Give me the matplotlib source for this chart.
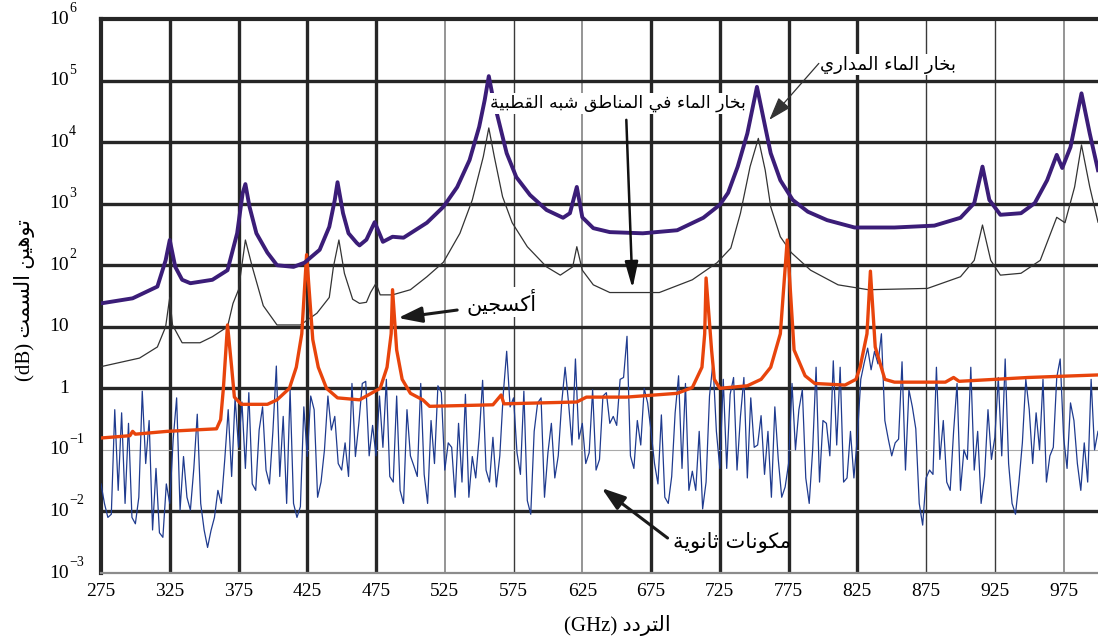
import numpy as np
import matplotlib
matplotlib.use("Agg")
import matplotlib.pyplot as plt


# %% data
# tropical water vapour (purple)
trop_ghz = [275, 298, 316, 322, 325, 329, 334, 340, 356, 367, 374, 378, 380, 383, 388, 396,
            403, 415, 423, 434, 441, 445, 447, 451, 455, 461, 463, 468, 474, 480, 487, 495,
            512, 524, 534, 543, 550, 554, 557, 560, 564, 570, 577, 587, 599, 611, 616, 621,
            625, 633, 645, 669, 694, 713, 725, 731, 738, 745, 752, 758, 762, 769, 778, 789,
            803, 823, 852, 881, 900, 910, 916, 921, 929, 944, 954, 963, 970, 974, 980, 988,
            994, 1000]
trop_db = [24, 29, 45, 120, 257, 94, 58, 51, 58, 83, 330, 1480, 2080, 890, 330, 160,
           100, 94, 110, 178, 420, 1150, 2230, 700, 330, 230, 210, 260, 500, 240, 290, 280,
           490, 890, 1860, 5100, 17700, 48000, 118000, 53000, 23000, 6600, 2700, 1380, 790, 590, 700, 1870,
           600, 400, 345, 330, 370, 590, 960, 1500, 4000, 13800, 79000, 17700, 6600, 2400, 1150, 740,
           540, 410, 410, 440, 590, 1020, 4000, 1150, 660, 700, 1020, 2400, 6200, 3800, 8300, 62000,
           13800, 3500]

# subarctic water vapour (thin black)
sub_ghz = [275, 303, 316, 322, 324, 325, 327, 334, 347, 356, 367, 371, 375, 380, 385, 393,
           403, 420, 432, 441, 444, 448, 452, 458, 463, 468, 471, 475, 478, 487, 500, 512,
           524, 536, 545, 553, 557, 561, 567, 574, 585, 599, 609, 618, 621, 625, 633, 645,
           681, 705, 723, 733, 740, 747, 753, 758, 762, 769, 777, 791, 811, 833, 876, 900,
           910, 916, 922, 929, 944, 958, 970, 976, 983, 988, 994, 1000]
sub_db = [2.25, 3.1, 4.7, 10, 21, 30, 10.7, 5.5, 5.5, 6.9, 10, 24, 40, 257, 94, 22,
          10.7, 10.7, 16.6, 30, 94, 257, 74, 28, 24, 25, 36, 51, 33, 33, 40, 65,
          112, 330, 1150, 5800, 17000, 5800, 1300, 490, 200, 94, 69, 94, 200, 83, 48, 36,
          36, 58, 110, 190, 700, 4000, 11500, 3500, 890, 290, 160, 83, 48, 40, 42, 65,
          120, 450, 120, 69, 74, 120, 600, 490, 1870, 9000, 1870, 500]

# oxygen (orange)
oxy_ghz = [275, 296, 298, 300, 323, 359, 362, 364, 367, 370, 372, 377, 396, 403, 412, 417,
           421, 424.5, 429, 433, 439, 447, 463, 478, 483, 486, 487, 490, 494, 500, 509, 514,
           560, 566, 568, 621, 628, 657, 694, 705, 712, 714, 715, 719, 721, 725, 745, 755,
           762, 769, 774, 779, 787, 794, 816, 824, 827, 832, 834.5, 838, 845, 852, 889, 895,
           899, 925, 949, 1000]
oxy_db = [0.156, 0.17, 0.2, 0.18, 0.2, 0.22, 0.31, 1.0, 10.7, 2.2, 0.72, 0.55, 0.55, 0.65, 1.0, 2.2,
          7.7, 148, 6.2, 2.2, 1.0, 0.7, 0.65, 1.0, 2.2, 7.7, 40, 4.2, 1.4, 0.83, 0.65, 0.51,
          0.54, 0.78, 0.56, 0.6, 0.72, 0.72, 0.83, 1.03, 2.2, 7.7, 62, 4.2, 1.4, 1.0, 1.1, 1.4,
          2.2, 7.7, 257, 4.2, 1.6, 1.2, 1.13, 1.4, 2.2, 7.7, 80, 4.7, 1.4, 1.26, 1.26, 1.5,
          1.3, 1.4, 1.5, 1.65]

# minor constituents (blue), one value every 2.5 GHz from 275 to 1000
minor_db = [0.028, 0.0135, 0.008, 0.009, 0.45, 0.022, 0.40, 0.0135, 0.27, 0.008,
            0.0063, 0.017, 0.9, 0.06, 0.3, 0.005, 0.05, 0.0045, 0.0038, 0.028,
            0.0135, 0.15, 0.7, 0.0105, 0.078, 0.017, 0.0105, 0.05, 0.38, 0.0135,
            0.005, 0.0026, 0.0049, 0.008, 0.022, 0.0135, 0.07, 0.45, 0.037, 0.7,
            0.11, 0.6, 0.05, 0.85, 0.028, 0.022, 0.21, 0.5, 0.047, 0.028,
            0.2, 2.3, 0.037, 0.35, 0.0135, 0.95, 0.0135, 0.008, 0.012, 0.5,
            0.078, 0.75, 0.45, 0.017, 0.03, 0.1, 0.75, 0.21, 0.35, 0.06,
            0.047, 0.13, 0.037, 1.2, 0.078, 0.27, 1.2, 1.3, 0.08, 0.25,
            0.08, 0.75, 0.11, 1.4, 0.037, 0.03, 0.75, 0.022, 0.0135, 0.45,
            0.08, 0.055, 0.037, 1.2, 0.04, 0.0135, 0.3, 0.06, 1.1, 0.85,
            0.047, 0.13, 0.11, 0.017, 0.27, 0.03, 0.8, 0.017, 0.078, 0.035,
            0.16, 1.35, 0.047, 0.03, 0.16, 0.025, 0.08, 0.8, 4.0, 0.5,
            0.7, 0.09, 0.04, 0.9, 0.015, 0.009, 0.2, 0.58, 0.7, 0.017,
            0.09, 0.27, 0.035, 0.08, 0.58, 2.2, 0.58, 0.12, 3.0, 0.15,
            0.27, 0.06, 0.09, 0.95, 0.047, 0.07, 0.75, 0.85, 0.27, 0.35,
            0.25, 1.4, 1.5, 7.0, 0.08, 0.05, 0.3, 0.12, 1.0, 0.58,
            0.2, 0.06, 0.028, 0.37, 0.017, 0.0135, 0.037, 0.4, 1.6, 0.05,
            1.2, 0.022, 0.045, 0.022, 0.2, 0.011, 0.03, 0.75, 2.6, 0.2,
            0.05, 1.4, 0.05, 0.8, 1.5, 0.047, 0.35, 1.5, 0.035, 0.7,
            0.11, 0.12, 0.36, 0.04, 0.2, 0.017, 0.5, 0.07, 0.017, 0.025,
            0.06, 1.2, 0.1, 0.45, 0.95, 0.035, 0.0135, 0.1, 2.2, 0.03,
            0.3, 0.27, 0.08, 2.8, 0.12, 2.2, 0.03, 0.035, 0.2, 0.035,
            0.16, 1.4, 2.6, 4.5, 2.0, 4.0, 2.5, 7.7, 0.3, 0.15,
            0.08, 0.13, 0.15, 2.7, 0.047, 0.95, 0.5, 0.22, 0.0135, 0.006,
            0.035, 0.047, 0.04, 2.2, 0.07, 0.3, 0.03, 0.022, 0.2, 1.2,
            0.022, 0.1, 0.07, 2.2, 0.047, 0.2, 0.0135, 0.037, 0.45, 0.07,
            0.16, 1.5, 0.08, 3.0, 0.06, 0.0135, 0.009, 0.03, 0.13, 1.4,
            0.45, 0.06, 0.4, 0.1, 1.4, 0.03, 0.08, 0.11, 1.5, 3.0,
            0.16, 0.05, 0.58, 0.3, 0.06, 0.022, 0.13, 0.03, 1.4, 0.1,
            0.2]
minor_ghz = np.linspace(275, 1000, len(minor_db))

x_ticks = [275, 325, 375, 425, 475, 525, 575, 625, 675, 725, 775, 825, 875, 925, 975]
y_exps = [-3, -2, -1, 0, 1, 2, 3, 4, 5, 6]


# %% arabic shaping (matplotlib does not join arabic letters by itself)
FORMS = {
    "ء": (0xFE80, None, None, None), "أ": (0xFE83, 0xFE84, None, None),
    "ا": (0xFE8D, 0xFE8E, None, None), "ب": (0xFE8F, 0xFE90, 0xFE91, 0xFE92),
    "ة": (0xFE93, 0xFE94, None, None), "ت": (0xFE95, 0xFE96, 0xFE97, 0xFE98),
    "ث": (0xFE99, 0xFE9A, 0xFE9B, 0xFE9C), "ج": (0xFE9D, 0xFE9E, 0xFE9F, 0xFEA0),
    "خ": (0xFEA5, 0xFEA6, 0xFEA7, 0xFEA8), "د": (0xFEA9, 0xFEAA, None, None),
    "ر": (0xFEAD, 0xFEAE, None, None), "س": (0xFEB1, 0xFEB2, 0xFEB3, 0xFEB4),
    "ش": (0xFEB5, 0xFEB6, 0xFEB7, 0xFEB8), "ط": (0xFEC1, 0xFEC2, 0xFEC3, 0xFEC4),
    "ف": (0xFED1, 0xFED2, 0xFED3, 0xFED4), "ق": (0xFED5, 0xFED6, 0xFED7, 0xFED8),
    "ك": (0xFED9, 0xFEDA, 0xFEDB, 0xFEDC), "ل": (0xFEDD, 0xFEDE, 0xFEDF, 0xFEE0),
    "م": (0xFEE1, 0xFEE2, 0xFEE3, 0xFEE4), "ن": (0xFEE5, 0xFEE6, 0xFEE7, 0xFEE8),
    "ه": (0xFEE9, 0xFEEA, 0xFEEB, 0xFEEC), "و": (0xFEED, 0xFEEE, None, None),
    "ي": (0xFEF1, 0xFEF2, 0xFEF3, 0xFEF4),
}


def rtl(text):
    out = []
    for i, c in enumerate(text):
        if c not in FORMS:
            out.append(c)
            continue
        prv = text[i - 1] if i > 0 else ""
        nxt = text[i + 1] if i + 1 < len(text) else ""
        j_prev = prv in FORMS and FORMS[prv][2] is not None and FORMS[c][1] is not None
        j_next = nxt in FORMS and FORMS[c][2] is not None and FORMS[nxt][1] is not None
        k = 3 if (j_prev and j_next) else 1 if j_prev else 2 if j_next else 0
        out.append(chr(FORMS[c][k]))
    return "".join(out)[::-1]


# %% figure
plt.rcParams["font.family"] = ["Liberation Serif", "DejaVu Sans"]
AR = ["DejaVu Sans"]

fig = plt.figure(figsize=(10.98, 6.41), dpi=100)
ax = fig.add_axes([101 / 1098, 68 / 641, 997 / 1098, 554 / 641])
ax.set_yscale("log")
ax.set_xlim(275, 1000)
ax.set_ylim(1e-3, 1e6)

# grid
for x in [325, 375, 425, 475, 675, 725, 775, 825]:
    ax.axvline(x, color="#262626", lw = 2.4, zorder = 1)
for x in [575, 875, 925]:
    ax.axvline(x, color="#3a3a3a", lw = 1.0, zorder = 1)
for x in [525, 625, 975]:
    ax.axvline(x, color="#8c8c8c", lw = 1.3, zorder = 1)
for y in [1e5, 1e4, 1e3, 1e2, 10, 1, 1e-2]:
    ax.axhline(y, color="#262626", lw = 2.4, zorder = 1)
ax.axhline(0.1, color="#aaaaaa", lw = 0.8, zorder = 1)

for s in ["left", "top"]:
    ax.spines[s].set_linewidth(3)
    ax.spines[s].set_color("#262626")
ax.spines["bottom"].set_linewidth(1.6)
ax.spines["bottom"].set_color("#8c8c8c")
ax.spines["right"].set_visible(False)

# curves
ax.plot(minor_ghz, minor_db, color = "#1f3b8f", lw = 0.9, zorder = 3)
ax.plot(sub_ghz, sub_db, color = "#333333", lw = 0.9, zorder = 3)
ax.plot(oxy_ghz, oxy_db, color = "#e8440c", lw = 2.4, zorder = 4)
ax.plot(trop_ghz, trop_db, color = "#3b1d78", lw = 2.8, zorder = 5)

# ticks
ax.set_xticks(x_ticks)
ax.tick_params(axis = "x", length = 0, pad = 7, labelsize = 14)
ax.set_yticks([])
ax.yaxis.set_minor_locator(matplotlib.ticker.NullLocator())
ytr = ax.get_yaxis_transform()
for e in y_exps:
    if e == 0 or e == 1:
        ax.text(-0.032, 10.0 ** e, "1" if e == 0 else "10", transform = ytr,
                ha = "right", va = "center", fontsize = 14)
    else:
        ax.text(-0.032, 10.0 ** e, "10", transform = ytr, ha = "right", va = "center", fontsize = 14)
        ax.text(-0.032, 10.0 ** (e + 0.17), str(e).replace("-", "\u2212"), transform = ytr,
                ha = "left", va = "center", fontsize = 10)

# axis labels
fig.text(25 / 1098, 1 - 300 / 641, "(dB) " + rtl("توهين السمت"), rotation = 90,
         ha = "center", va = "center", fontsize = 15)
fig.text(617 / 1098, 1 - 625 / 641, "(GHz) " + rtl("التردد"),
         ha = "center", va = "center", fontsize = 15)

# labels and arrows
box = dict(fc = "white", ec = "none", pad = 1)
ax.text(847, 1.8e5, rtl("بخار الماء المداري"), family = AR, fontsize = 13,
        ha = "center", va = "center", bbox = box, zorder = 6)
ax.annotate("", xy = (761, 2.3e4), xytext = (797, 1.9e5), zorder = 6,
            arrowprops = dict(arrowstyle = "-|>,head_length=0.9,head_width=0.3", color = "#333333",
                              lw = 0.9, mutation_scale = 16, shrinkA = 0, shrinkB = 0))

ax.text(651, 4.3e4, rtl("بخار الماء في المناطق شبه القطبية"), family = AR, fontsize = 12.5,
        ha = "center", va = "center", bbox = box, zorder = 6)
ax.annotate("", xy = (661.5, 42), xytext = (657, 2.3e4), zorder = 6,
            arrowprops = dict(arrowstyle = "-|>,head_length=1.0,head_width=0.25", color = "#111111",
                              lw = 1.8, mutation_scale = 16, shrinkA = 0, shrinkB = 0))

ax.text(566, 25, rtl("أكسجين"), family = AR, fontsize = 15,
        ha = "center", va = "center", bbox = box, zorder = 6)
ax.annotate("", xy = (491, 13.9), xytext = (534, 18.7), zorder = 6,
            arrowprops = dict(arrowstyle = "-|>,head_length=0.9,head_width=0.3", color = "#1a1a1a",
                              lw = 2.2, mutation_scale = 16, shrinkA = 0, shrinkB = 0))

ax.text(734, 0.0031, rtl("مكونات ثانوية"), family = AR, fontsize = 15,
        ha = "center", va = "center", zorder = 6)
ax.annotate("", xy = (639, 0.024), xytext = (687, 0.0037), zorder = 6,
            arrowprops = dict(arrowstyle = "-|>,head_length=0.9,head_width=0.3", color = "#1a1a1a",
                              lw = 2.2, mutation_scale = 16, shrinkA = 0, shrinkB = 0))

fig.savefig("out.png", dpi = 100)
